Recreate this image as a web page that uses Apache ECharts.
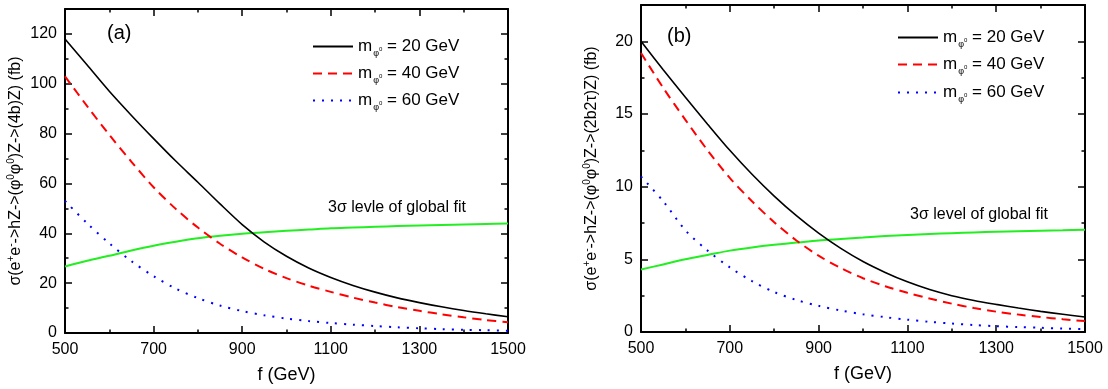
<!DOCTYPE html>
<html>
<head>
<meta charset="utf-8">
<script src="https://cdn.jsdelivr.net/npm/echarts@6.0.0/dist/echarts.min.js"></script>
<style>
  html, body { margin: 0; padding: 0; background: #fff; }
  #chart { width: 1108px; height: 389px; }
</style>
</head>
<body>
<div id="chart"></div>
<script>
// f (GeV) sample points shared by every curve
const fList = [500, 550, 600, 650, 700, 750, 800, 850, 900, 950, 1000,
  1050, 1100, 1150, 1200, 1250, 1300, 1350, 1400, 1450, 1500]

// panel (a): sigma -> (4b)Z, fb
const a20 = [118, 107.5, 97, 87.3, 78, 69, 60.5, 51.8, 43.5, 36.5, 30.8,
  26.1, 22.3, 19.1, 16.4, 14.1, 12.2, 10.5, 9.0, 7.7, 6.5]
const a40 = [103, 91, 79.5, 68.7, 58.5, 49.8, 42.3, 35.8, 30.3, 25.7, 22,
  19, 16.5, 14.2, 12.2, 10.4, 8.9, 7.5, 6.3, 5.2, 4.3]
const a60 = [53, 44, 36, 28.8, 22.8, 17.8, 14, 11, 8.8, 7.1, 5.8,
  4.8, 4.0, 3.35, 2.8, 2.3, 1.9, 1.55, 1.3, 1.1, 0.9]
const aFit = [26.7, 29, 31, 33.1, 35, 36.6, 38, 39, 39.8, 40.4, 41,
  41.5, 42, 42.3, 42.6, 42.9, 43.1, 43.3, 43.5, 43.7, 43.9]

// panel (b): sigma -> (2b2tau)Z, fb
const b20 = [20, 18.05, 16.15, 14.3, 12.5, 10.85, 9.35, 8.0, 6.8, 5.75, 4.85,
  4.1, 3.45, 2.92, 2.5, 2.17, 1.9, 1.65, 1.42, 1.22, 1.03]
const b40 = [19.2, 16.8, 14.6, 12.5, 10.6, 9.0, 7.55, 6.3, 5.25, 4.4, 3.7,
  3.15, 2.7, 2.3, 1.95, 1.65, 1.4, 1.2, 1.03, 0.88, 0.75]
const b60 = [10.7, 9.0, 7.0, 5.6, 4.45, 3.5, 2.75, 2.2, 1.8, 1.48, 1.22,
  1.02, 0.85, 0.7, 0.58, 0.48, 0.4, 0.34, 0.29, 0.24, 0.2]
const bFit = [4.3, 4.65, 5.0, 5.3, 5.6, 5.82, 6.0, 6.15, 6.3, 6.4, 6.5,
  6.6, 6.68, 6.75, 6.8, 6.85, 6.9, 6.94, 6.97, 7.0, 7.04]

// ticks
const xMajor = [500, 700, 900, 1100, 1300, 1500]
const xMinor = [600, 800, 1000, 1200, 1400]
const aMajor = [0, 20, 40, 60, 80, 100, 120]
const aMinor = [10, 30, 50, 70, 90, 110]
const bMajor = [0, 5, 10, 15, 20]
const bMinor = [2.5, 7.5, 12.5, 17.5]

const legendMass = { m20: '20', m40: '40', m60: '60' }

const FONT = '"Liberation Sans", Arial, sans-serif'

const xAxisOf = (grid, pos, ticks, len, withLabel) => ({
  type: 'value',
  gridIndex: grid,
  position: pos,
  min: 500,
  max: 1500,
  axisLine: { show: len > 5, onZero: false, lineStyle: { color: '#000', width: 2 } },
  axisTick: { show: true, inside: true, length: len, customValues: ticks, lineStyle: { color: '#000', width: 1.5 } },
  axisLabel: {
    show: withLabel, customValues: ticks, margin: 9, color: '#000', fontSize: 16, fontFamily: FONT,
    formatter: (v) => String(v)
  },
  splitLine: { show: false },
  name: withLabel ? 'f (GeV)' : '',
  nameLocation: 'middle',
  nameGap: 33,
  nameTextStyle: { color: '#000', fontSize: 18, fontFamily: FONT }
})

const supRich = {
  n: { fontSize: 16, fontFamily: FONT, color: '#000' },
  p: { fontSize: 10, fontFamily: FONT, color: '#000', padding: [0, 0, 10, 0] }
}

const yAxisOf = (grid, pos, max, ticks, len, withLabel, name) => ({
  type: 'value',
  gridIndex: grid,
  position: pos,
  min: 0,
  max: max,
  axisLine: { show: len > 5, onZero: false, lineStyle: { color: '#000', width: 2 } },
  axisTick: { show: true, inside: true, length: len, customValues: ticks, lineStyle: { color: '#000', width: 1.5 } },
  axisLabel: {
    show: withLabel, customValues: ticks, margin: 8, color: '#000', fontSize: 16, fontFamily: FONT,
    formatter: (v) => String(v)
  },
  splitLine: { show: false },
  name: withLabel ? name : '',
  nameLocation: 'middle',
  nameRotate: 90,
  nameGap: 39,
  nameTextStyle: { rich: supRich }
})

const nameA = '{n|σ(e}{p|+}{n|e}{p|-}{n|->hZ->(φ}{p|0}{n|φ}{p|0}{n|)Z->(4b)Z) (fb)}'
const nameB = '{n|σ(e}{p|+}{n|e}{p|-}{n|->hZ->(φ}{p|0}{n|φ}{p|0}{n|)Z->(2b2τ)Z) (fb)}'

const lineOf = (name, vals, panel, color, type, width) => ({
  name: name,
  type: 'line',
  xAxisIndex: panel * 4,
  yAxisIndex: panel * 4,
  data: fList.map((f, i) => [f, vals[i]]),
  smooth: 0.3,
  symbol: 'none',
  silent: true,
  lineStyle: { color: color, type: type, width: width },
  itemStyle: { color: color }
})

const legendOf = (name, left, top) => ({
  data: [name],
  left: left,
  top: top,
  padding: 0,
  itemWidth: 40,
  itemHeight: 14,
  selectedMode: false,
  itemStyle: { color: 'transparent', borderWidth: 0 },
  formatter: (n) => '{m|m}{s|φ}{z|0}{t| = ' + legendMass[n] + ' GeV}',
  textStyle: {
    rich: {
      m: { fontSize: 17, fontFamily: FONT, color: '#000' },
      s: { fontSize: 9, fontFamily: FONT, color: '#000', padding: [14, 0, 0, 1] },
      z: { fontSize: 6, fontFamily: FONT, color: '#000', padding: [6, 0, 0, 0] },
      t: { fontSize: 17, fontFamily: FONT, color: '#000' }
    }
  }
})

const chart = echarts.init(document.getElementById('chart'))

const option = {
  animation: false,
  backgroundColor: '#fff',
  grid: [
    { left: 65, top: 9, width: 443, height: 325 },
    { left: 641, top: 5, width: 444, height: 327 }
  ],
  xAxis: [
    xAxisOf(0, 'bottom', xMajor, 7, true),
    xAxisOf(0, 'top', xMajor, 7, false),
    xAxisOf(0, 'bottom', xMinor, 3.5, false),
    xAxisOf(0, 'top', xMinor, 3.5, false),
    xAxisOf(1, 'bottom', xMajor, 7, true),
    xAxisOf(1, 'top', xMajor, 7, false),
    xAxisOf(1, 'bottom', xMinor, 3.5, false),
    xAxisOf(1, 'top', xMinor, 3.5, false)
  ],
  yAxis: [
    yAxisOf(0, 'left', 130, aMajor, 7, true, nameA),
    yAxisOf(0, 'right', 130, aMajor, 7, false),
    yAxisOf(0, 'left', 130, aMinor, 3.5, false),
    yAxisOf(0, 'right', 130, aMinor, 3.5, false),
    yAxisOf(1, 'left', 22.5, bMajor, 7, true, nameB),
    yAxisOf(1, 'right', 22.5, bMajor, 7, false),
    yAxisOf(1, 'left', 22.5, bMinor, 3.5, false),
    yAxisOf(1, 'right', 22.5, bMinor, 3.5, false)
  ],
  legend: [
    legendOf('m20', 312, 38),
    legendOf('m40', 312, 65),
    legendOf('m60', 312, 92),
    legendOf('m20', 897, 29),
    legendOf('m40', 897, 56),
    legendOf('m60', 897, 84)
  ],
  series: [
    lineOf('fitA', aFit, 0, '#22ee22', 'solid', 2),
    lineOf('m20', a20, 0, '#000000', 'solid', 1.6),
    lineOf('m40', a40, 0, '#ff0000', [9, 6], 2),
    lineOf('m60', a60, 0, '#0000ff', [2, 7], 2),
    lineOf('fitB', bFit, 1, '#22ee22', 'solid', 2),
    lineOf('m20', b20, 1, '#000000', 'solid', 1.6),
    lineOf('m40', b40, 1, '#ff0000', [9, 6], 2),
    lineOf('m60', b60, 1, '#0000ff', [2, 7], 2)
  ],
  graphic: [
    { type: 'text', left: 107, top: 23, style: { text: '(a)', font: '20px ' + FONT, fill: '#000' } },
    { type: 'text', left: 667, top: 26, style: { text: '(b)', font: '20px ' + FONT, fill: '#000' } },
    { type: 'text', left: 328, top: 200, style: { text: '3σ levle of global fit', font: '16px ' + FONT, fill: '#000' } },
    { type: 'text', left: 910, top: 207, style: { text: '3σ level of global fit', font: '16px ' + FONT, fill: '#000' } }
  ]
}

chart.setOption(option)
</script>
</body>
</html>
